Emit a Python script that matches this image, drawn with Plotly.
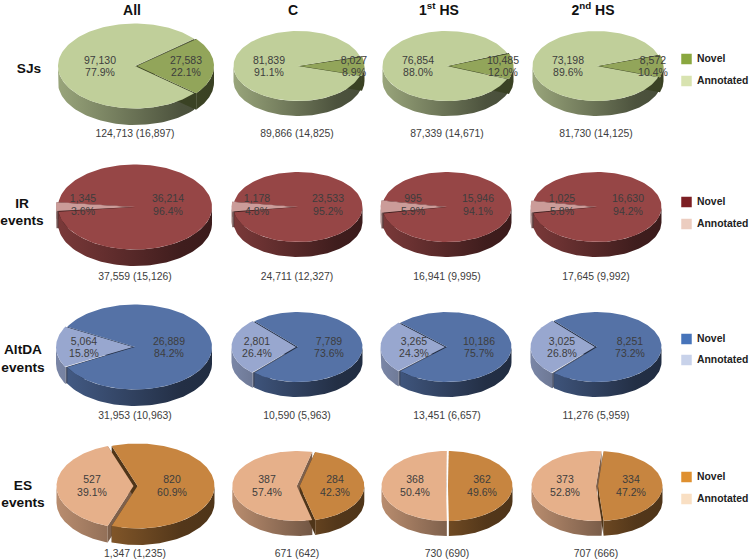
import numpy as np
import plotly.graph_objects as go

# ---- data ----
columns = ["All", "C", "1<sup>st</sup> HS", "2<sup>nd</sup> HS"]
row_names = ["SJs", "IR<br>events", "AltDA<br>events", "ES<br>events"]
annotated = [
    [97130, 81839, 76854, 73198],
    [1345, 1178, 995, 1025],
    [5064, 2801, 3265, 3025],
    [527, 387, 368, 373],
]
novel = [
    [27583, 8027, 10485, 8572],
    [36214, 23533, 15946, 16630],
    [26889, 7789, 10186, 8251],
    [820, 284, 362, 334],
]
annotated_pct = [
    [77.9, 91.1, 88.0, 89.6],
    [3.6, 4.8, 5.9, 5.8],
    [15.8, 26.4, 24.3, 26.8],
    [39.1, 57.4, 50.4, 52.8],
]
novel_pct = [
    [22.1, 8.9, 12.0, 10.4],
    [96.4, 95.2, 94.1, 94.2],
    [84.2, 73.6, 75.7, 73.2],
    [60.9, 42.3, 49.6, 47.2],
]
totals = [
    ["124,713 (16,897)", "89,866 (14,825)", "87,339 (14,671)", "81,730 (14,125)"],
    ["37,559 (15,126)", "24,711 (12,327)", "16,941 (9,995)", "17,645 (9,992)"],
    ["31,953 (10,963)", "10,590 (5,963)", "13,451 (6,657)", "11,276 (5,959)"],
    ["1,347 (1,235)", "671 (642)", "730 (690)", "707 (666)"],
]

# ---- layout (pixels of the 750x560 canvas) ----
col_x = [135, 298, 447, 597]
row_y = [66, 207, 347, 486]
radius_x = [77, 64.5, 64.5, 64.5]
radius_y = [42.5, 35, 35, 35]
depth = [16.5, 15, 15, 15]
shift_annotated = [[0, 0, 0, 0], [2, 2, 2, 2], [2, 2, 2, 2], [1.5, 1.2, 1, 1]]
shift_novel = [[2, 2, 2, 2], [0, 0, 0, 0], [0, 0, 0, 0], [2.5, 1.8, 1, 1]]
label_x_annotated = [[100, 269, 418, 568], [83, 257, 413, 562], [84, 257, 414, 562], [92, 267, 415, 565]]
label_x_novel = [[186, 354, 503, 653], [168, 328, 478, 628], [169, 329, 479, 630], [172, 335, 482, 631]]
label_dy = [[-5, 7.5], [-7.5, 5.5], [-5, 7.5], [-5.5, 7.5]]
total_y = [134.5, 277.5, 416.5, 554.5]
total_x = [135, 297, 447, 596]
header_x = [132, 293, 439, 593]
header_y = 11
row_label_x = [29, 22, 23, 23]
row_label_y = [[70], [205, 222], [351, 369], [487, 504]]
legend_y = [[59, 81], [202, 224], [339, 360], [477, 499]]

# ---- colours ----
top_novel = ["#92a55a", "#964646", "#5572a6", "#c78540"]
top_annotated = ["#c0cf9a", "#cb9c99", "#98a7cf", "#e6b08a"]
swatch_novel = ["#8aa73f", "#7c1f24", "#4774ba", "#df9030"]
swatch_annotated = ["#d8e3b0", "#eccdc0", "#c8d2ea", "#f9dfc3"]
TEXT = "#3d3d3d"
FONT = "Liberation Sans, Arial, sans-serif"


def scaled(hex_colour, k):
    r, g, b = (int(hex_colour[i:i + 2], 16) for i in (1, 3, 5))
    return f"rgb({int(r * k)},{int(g * k)},{int(b * k)})"


fig = go.Figure()


def polygon(xs, ys, colour=None, gradient=None):
    kw = dict(x=list(xs), y=list(ys), mode="lines", fill="toself",
              line=dict(width=0), hoverinfo="skip", showlegend=False)
    if gradient is not None:
        kw["fillgradient"] = gradient
    else:
        kw["fillcolor"] = colour
    fig.add_trace(go.Scatter(**kw))


def wedge_geometry(cx, cy, rx, ry, mid, half, shift):
    """screen angle: 0 = east, positive = clockwise on screen (towards viewer)"""
    t = np.linspace(mid - half, mid + half, 140)
    ox = cx + shift * np.cos(mid)
    oy = cy + shift * np.sin(mid) * ry / rx
    return t, ox, oy, ox + rx * np.cos(t), oy + ry * np.sin(t)


def draw_side(cx, cy, rx, ry, d, mid, half, shift, base, k_left, k_right, k_cut):
    t, ox, oy, ax, ay = wedge_geometry(cx, cy, rx, ry, mid, half, shift)
    # radial cut faces
    for px, py in ((ax[0], ay[0]), (ax[-1], ay[-1])):
        polygon([ox, px, px, ox, ox], [oy, py, py + d, oy + d, oy], scaled(base, k_cut))
    # curved rim, only where it faces the viewer
    front = np.sin(t) >= 0
    if front.sum() > 1:
        fx, fy = ax[front], ay[front]
        grad = dict(type="horizontal", start=cx - rx, stop=cx + rx,
                    colorscale=[[0, scaled(base, k_left)], [0.8, scaled(base, k_right)],
                                [1, scaled(base, k_right * 0.95)]])
        polygon(np.r_[fx, fx[::-1], fx[0]], np.r_[fy, fy[::-1] + d, fy[0]], gradient=grad)


def draw_top(cx, cy, rx, ry, mid, half, shift, colour):
    _, ox, oy, ax, ay = wedge_geometry(cx, cy, rx, ry, mid, half, shift)
    polygon(np.r_[ox, ax, ox], np.r_[oy, ay, oy], colour)


def label(x, y, text, size, colour=TEXT, bold=False, anchor="middle center"):
    fig.add_trace(go.Scatter(
        x=[x], y=[y], mode="text", text=[f"<b>{text}</b>" if bold else text],
        textposition=anchor, hoverinfo="skip", showlegend=False,
        textfont=dict(family=FONT, size=size, color=colour)))


for r in range(4):
    for c in range(4):
        a, n = annotated[r][c], novel[r][c]
        half_n = np.pi * n / (a + n)
        half_a = np.pi - half_n
        cx, cy = col_x[c], row_y[r]
        rx, ry, d = radius_x[c], radius_y[c], depth[c]
        # walls first, then tops: cut faces only show through the gap of the explosion
        draw_side(cx, cy, rx, ry, d, np.pi, half_a, shift_annotated[r][c],
                  top_annotated[r], 0.80, 0.40, 0.55)
        draw_side(cx, cy, rx, ry, d, 0.0, half_n, shift_novel[r][c],
                  top_novel[r], 0.82, 0.42, 0.40)
        draw_top(cx, cy, rx, ry, np.pi, half_a, shift_annotated[r][c], top_annotated[r])
        draw_top(cx, cy, rx, ry, 0.0, half_n, shift_novel[r][c], top_novel[r])

for r in range(4):
    d1, d2 = label_dy[r]
    for c in range(4):
        cy = row_y[r]
        label(label_x_annotated[r][c], cy + d1, f"{annotated[r][c]:,}", 10.5)
        label(label_x_annotated[r][c], cy + d2, f"{annotated_pct[r][c]:.1f}%", 10.5)
        label(label_x_novel[r][c], cy + d1, f"{novel[r][c]:,}", 10.5)
        label(label_x_novel[r][c], cy + d2, f"{novel_pct[r][c]:.1f}%", 10.5)
        label(total_x[c], total_y[r], totals[r][c], 10.4)

for c, name in enumerate(columns):
    label(header_x[c], header_y, name, 14, "#111111", True)

for r, name in enumerate(row_names):
    for part, y in zip(name.split("<br>"), row_label_y[r]):
        label(row_label_x[r], y, part, 13.7, "#111111", True)

for r in range(4):
    for y, colour, name in zip(legend_y[r], (swatch_novel[r], swatch_annotated[r]), ("Novel", "Annotated")):
        fig.add_trace(go.Scatter(
            x=[686.5], y=[y], mode="markers", hoverinfo="skip", showlegend=False,
            marker=dict(symbol="square", size=10.5, color=colour, line=dict(width=0))))
        label(697, y + 0.5, name, 10.4, "#222222", True, "middle right")

fig.update_layout(
    width=750, height=560, autosize=False,
    margin=dict(l=0, r=0, t=0, b=0),
    paper_bgcolor="white", plot_bgcolor="white",
    showlegend=False,
    xaxis=dict(range=[0, 750], visible=False, fixedrange=True),
    yaxis=dict(range=[560, 0], visible=False, fixedrange=True),
)
fig.write_html("out.html", config={"displayModeBar": False},
               post_script="document.body.style.margin='0';")
